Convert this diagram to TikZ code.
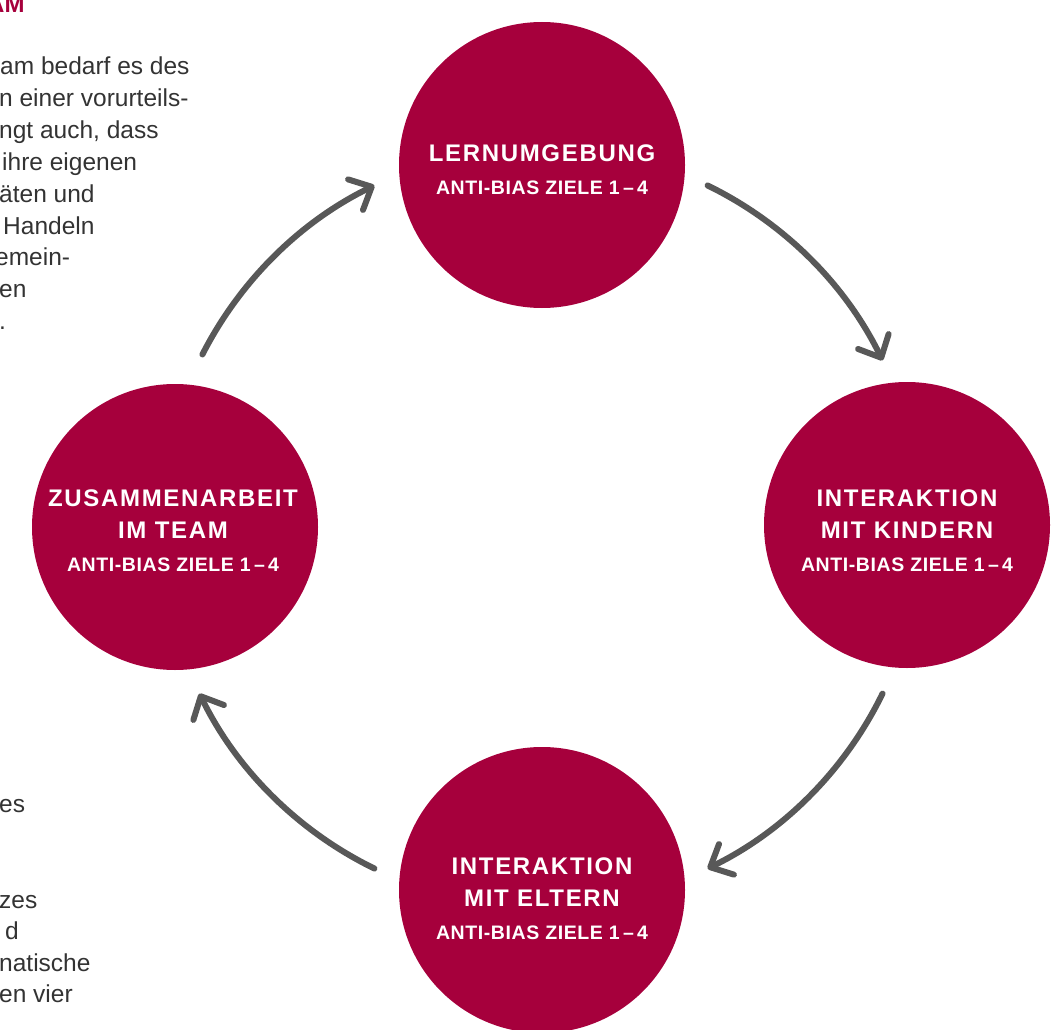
\documentclass[tikz,border=0pt]{standalone}
\usepackage{fontspec}
\setmainfont{Liberation Sans}
\newfontfamily\titlefont{Liberation Sans}[LetterSpace=7]
\newfontfamily\goalfont{Liberation Sans}[LetterSpace=3]
\usetikzlibrary{arrows.meta,calc}
\definecolor{crimson}{RGB}{166,0,60}
\definecolor{flowgray}{RGB}{88,88,88}
\definecolor{bodytext}{RGB}{51,51,51}

\begin{document}
\begin{tikzpicture}[x=1pt,y=-1pt,
  area/.style={circle, fill=crimson, minimum size=286pt, inner sep=0pt},
  areatitle/.style={anchor=base, inner sep=0pt, text=white,
    font=\titlefont\bfseries\fontsize{24}{28}\selectfont},
  areagoal/.style={anchor=base, inner sep=0pt, text=white,
    font=\goalfont\bfseries\fontsize{19.5}{23}\selectfont},
  flow/.style={draw=flowgray, line width=6pt, line cap=round,
    -{Straight Barb[length=18pt,width=34pt,line cap=round,line join=round]}},
  frag/.style={anchor=base west, inner sep=0pt, text=bodytext,
    font=\fontsize{24.5}{28}\selectfont},
]
\useasboundingbox (0,0) rectangle (1058,1030);

% running text of the page beside the cycle
\node[anchor=base west, inner sep=0pt, text=crimson,
  font=\bfseries\fontsize{24}{28}\selectfont] (head) at (-13,13) {AM};
\node[frag] (t1) at (0,75) {am bedarf es des};
\node[frag] (t2) at (-1,106.8) {n einer vorurteils-};
\node[frag] (t3) at (-1,138.6) {ngt auch, dass};
\node[frag] (t4) at (2,170.4) {ihre eigenen};
\node[frag] (t5) at (-1,202.2) {äten und};
\node[frag] (t6) at (3,234) {Handeln};
\node[frag] (t7) at (-5,265.8) {emein-};
\node[frag] (t8) at (-1,297.6) {en};
\node[frag] (t9) at (-1,329.4) {.};
\node[frag] (b1) at (-1,812) {es};
\node[frag] (b2) at (-1,908) {zes};
\node[frag] (b3) at (5,939.5) {d};
\node[frag] (b4) at (-1,971) {natische};
\node[frag] (b5) at (-1,1002.5) {en vier};

% the four fields
\node[area] (learn) at (542,165) {};
\node[area] (kids)  at (907,525) {};
\node[area] (parents) at (542,890) {};
\node[area] (team)  at (175,527) {};

\node[areatitle] at ($(learn)+(0,-3)$) {LERNUMGEBUNG};
\node[areagoal]  at ($(learn)+(0,29)$) {ANTI-BIAS ZIELE 1\,–\,4};

\node[areatitle] at ($(kids)+(0,-19)$) {INTERAKTION};
\node[areatitle] at ($(kids)+(0,13)$) {MIT KINDERN};
\node[areagoal]  at ($(kids)+(0,46)$) {ANTI-BIAS ZIELE 1\,–\,4};

\node[areatitle] at ($(parents)+(0,-16)$) {INTERAKTION};
\node[areatitle] at ($(parents)+(0,16)$) {MIT ELTERN};
\node[areagoal]  at ($(parents)+(0,49)$) {ANTI-BIAS ZIELE 1\,–\,4};

\node[areatitle] at ($(team)+(-2,-21)$) {ZUSAMMENARBEIT};
\node[areatitle] at ($(team)+(-2,11)$) {IM TEAM};
\node[areagoal]  at ($(team)+(-2,44)$) {ANTI-BIAS ZIELE 1\,–\,4};

% clockwise arrows on a common ring
\coordinate (hub) at (541,527);
\coordinate (f1) at ($(hub)+(-153:380)$);
\coordinate (f2) at ($(hub)+(-64:380)$);
\coordinate (f3) at ($(hub)+(26:380)$);
\coordinate (f4) at ($(hub)+(116:380)$);
\draw[flow] (f1) arc[start angle=-153, end angle=-116, radius=380];
\draw[flow] (f2) arc[start angle=-64, end angle=-26, radius=380];
\draw[flow] (f3) arc[start angle=26, end angle=64, radius=380];
\draw[flow] (f4) arc[start angle=116, end angle=154, radius=380];
\end{tikzpicture}
\end{document}
